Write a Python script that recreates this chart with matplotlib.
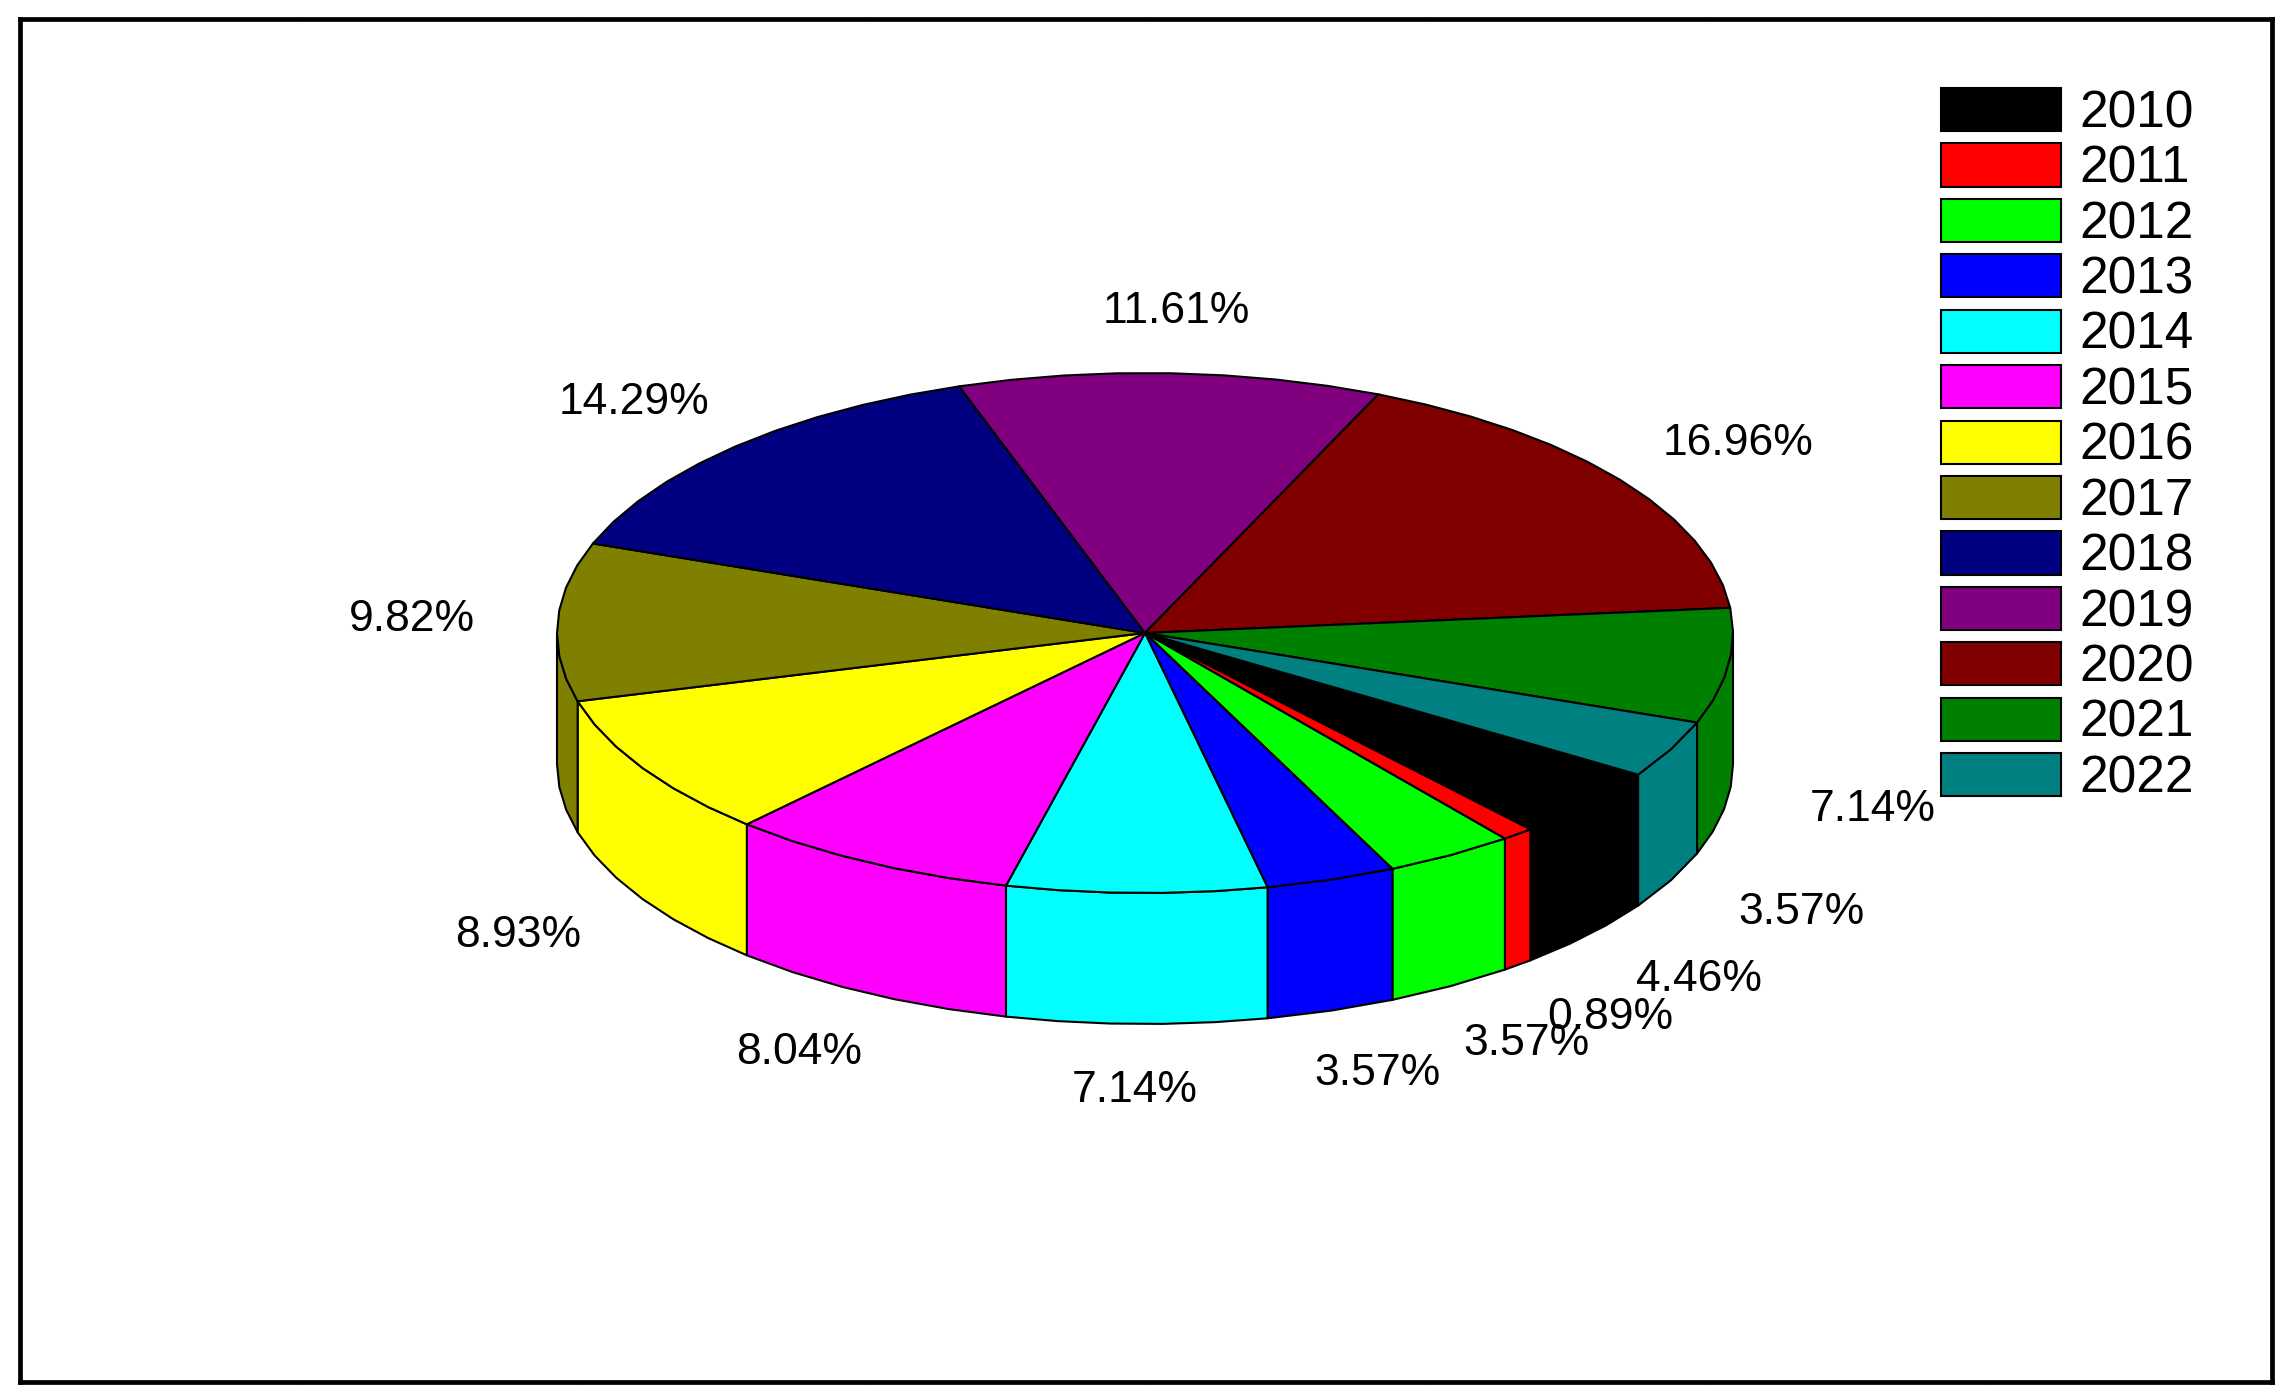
import numpy as np
import matplotlib
matplotlib.use("Agg")
import matplotlib.pyplot as plt
from matplotlib.patches import Polygon, Rectangle

years = ["2010", "2011", "2012", "2013", "2014", "2015", "2016", "2017", "2018", "2019", "2020", "2021", "2022"]
share = [4.46, 0.89, 3.57, 3.57, 7.14, 8.04, 8.93, 9.82, 14.29, 11.61, 16.96, 7.14, 3.57]
colors = ["#000000", "#ff0000", "#00ff00", "#0000ff", "#00ffff", "#ff00ff", "#ffff00",
          "#808000", "#000080", "#800080", "#800000", "#008000", "#008080"]

# pie geometry in pixels
cx, cy = 1145, 633
rx, ry = 588, 260
depth = 131
start = -33.0
lab_x = 1.248
lab_y = 1.236
font = "Liberation Sans"

plt.rcParams['font.family'] = [font, 'DejaVu Sans']
fig = plt.figure(figsize=(22.88, 14), dpi=100)
ax = fig.add_axes([0, 0, 1, 1], zorder=2)
ax.set_xlim(0, 2288)
ax.set_ylim(1400, 0)
ax.axis("off")

# frame with the tiny outer ticks
box = fig.add_axes([20 / 2288, 1 - 1382 / 1400, 2252 / 2288, 1363 / 1400], zorder=1)
box.set_xlim(0, 8)
box.set_ylim(0, 22)
box.set_xticks(range(9))
box.set_yticks(range(23))
box.tick_params(length=1.5, width=1, top=True, right=True, labelleft=False, labelbottom=False)
for sp in box.spines.values():
    sp.set_linewidth(3.4)


def arc(a0, a1, dy=0):
    # angles go clockwise, coarse steps like the original
    n = max(int(abs(a1 - a0) / 5), 1) + 1
    t = np.radians(np.linspace(a0, a1, n))
    return np.column_stack([cx + rx * np.cos(t), cy - ry * np.sin(t) + dy])


total = sum(share)
a = start
mids = []
for s, c in zip(share, colors):
    b = a - s / total * 360
    mids.append((a + b) / 2)
    # top
    pts = np.vstack([[cx, cy], arc(a, b)])
    ax.add_patch(Polygon(pts, closed=True, fc=c, ec="black", lw=1.5, joinstyle="round", zorder=3))
    # side wall, only where the rim faces front
    for k in range(-1, 1):
        lo = max(b, -180 + 360 * k)
        hi = min(a, 360 * k)
        if hi > lo:
            wall = np.vstack([arc(hi, lo), arc(lo, hi, depth)])
            ax.add_patch(Polygon(wall, closed=True, fc=c, ec="black", lw=1.5, joinstyle="round", zorder=2))
    a = b

for i, m in enumerate(mids):
    t = np.radians(m)
    x = cx + lab_x * rx * np.cos(t)
    y = cy - lab_y * ry * np.sin(t)
    if np.sin(t) < 0:
        y += depth + 5
    ax.text(x, y, "%.2f%%" % share[i], ha="center", va="center", fontsize=32, zorder=5)

handles = [Rectangle((0, 0), 1, 1, fc=c, ec="black", lw=1.5) for c in colors]
ax.legend(handles, years, loc="upper left", bbox_to_anchor=(1941 / 2288, 1 - 88 / 1400), frameon=False,
          fontsize=37, handlelength=2.335, handleheight=0.915, labelspacing=0.1, handletextpad=0.35,
          borderpad=0, borderaxespad=0)

fig.savefig("out.png", dpi=100)
